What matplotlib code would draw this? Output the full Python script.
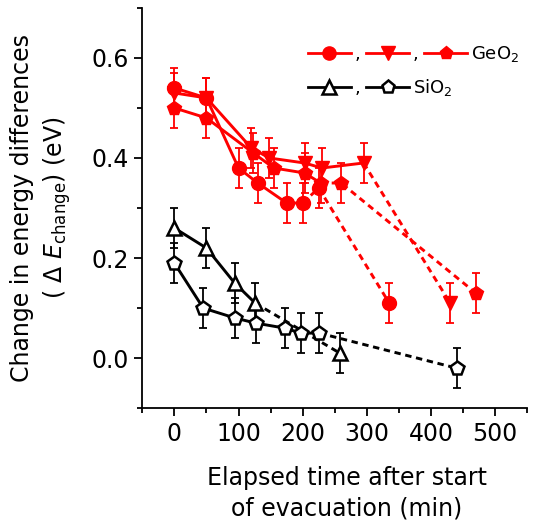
import matplotlib
matplotlib.use("Agg")
import matplotlib.pyplot as plt
from matplotlib.lines import Line2D
from matplotlib.ticker import MultipleLocator

plt.rcParams['font.family'] = ['DejaVu Sans']
plt.rcParams['mathtext.fontset'] = 'dejavusans'

# ---- data ----
ge_circ_x = [0, 50, 100, 130, 175, 200, 225, 335]
ge_circ_y = [0.54, 0.52, 0.38, 0.35, 0.31, 0.31, 0.34, 0.11]
ge_circ_dash_from = 5

ge_tri_x = [0, 50, 120, 148, 203, 230, 295, 430]
ge_tri_y = [0.53, 0.52, 0.42, 0.40, 0.39, 0.38, 0.39, 0.11]
ge_tri_dash_from = 6

ge_pent_x = [0, 50, 123, 155, 203, 228, 260, 470]
ge_pent_y = [0.50, 0.48, 0.41, 0.38, 0.37, 0.35, 0.35, 0.13]
ge_pent_dash_from = 5

si_tri_x = [0, 50, 94, 126, 258]
si_tri_y = [0.26, 0.22, 0.15, 0.11, 0.01]
si_tri_dash_from = 3

si_pent_x = [0, 45, 95, 127, 172, 198, 226, 440]
si_pent_y = [0.19, 0.10, 0.08, 0.07, 0.06, 0.05, 0.05, -0.02]
si_pent_dash_from = 6

err = 0.04

RED = '#ff0000'
BLK = '#000000'

fig = plt.figure(figsize=(5.33, 5.26), dpi=100)
ax = fig.add_axes([0.267, 0.224, 0.722, 0.761])


def draw(x, y, k, color, marker, filled):
    mfc = color if filled else 'white'
    ax.plot(x[:k + 1], y[:k + 1], '-', color=color, lw=2.1, zorder=2)
    ax.plot(x[k:], y[k:], color=color, lw=2.1, linestyle=(0, (2.2, 1.6)), zorder=2)
    ax.errorbar(x, y, yerr=err, fmt='none', ecolor=color, elinewidth=1.3,
                capsize=3, capthick=1.3, zorder=3)
    ax.plot(x, y, linestyle='none', marker=marker, ms=10, mfc=mfc,
            mec=color, mew=1.8 if not filled else 1.0, zorder=4)


draw(ge_circ_x, ge_circ_y, ge_circ_dash_from, RED, 'o', True)
draw(ge_tri_x, ge_tri_y, ge_tri_dash_from, RED, 'v', True)
draw(ge_pent_x, ge_pent_y, ge_pent_dash_from, RED, 'p', True)
draw(si_tri_x, si_tri_y, si_tri_dash_from, BLK, '^', False)
draw(si_pent_x, si_pent_y, si_pent_dash_from, BLK, 'p', False)

ax.set_xlim(-50, 550)
ax.set_ylim(-0.1, 0.7)
ax.xaxis.set_major_locator(MultipleLocator(100))
ax.xaxis.set_minor_locator(MultipleLocator(50))
ax.yaxis.set_major_locator(MultipleLocator(0.2))
ax.yaxis.set_minor_locator(MultipleLocator(0.1))
ax.yaxis.set_major_formatter(plt.FuncFormatter(lambda v, p: f"{v:.1f}"))

for s in ['top', 'right']:
    ax.spines[s].set_visible(False)
for s in ['left', 'bottom']:
    ax.spines[s].set_linewidth(1.3)

ax.tick_params(which='major', direction='out', length=6, width=1.3,
               labelsize=17, pad=4)
ax.tick_params(which='minor', direction='out', length=3.5, width=1.3)

ax.set_ylabel("Change in energy differences\n( $\\Delta$ $E_{\\rm change}$) (eV)",
              fontsize=17, linespacing=1.35)
ax.yaxis.set_label_coords(-0.18, 0.5, transform=ax.transAxes)
ax.set_xlabel("Elapsed time after start\nof evacuation (min)", fontsize=17,
              linespacing=1.35)
ax.xaxis.set_label_coords(0.532, -0.145, transform=ax.transAxes)
ax.xaxis.label.set_va('top')

# legend
def h(color, marker, filled):
    return Line2D([], [], color=color, lw=2.0, marker=marker, ms=9.5,
                  mfc=color if filled else 'white', mec=color,
                  mew=1.8 if not filled else 1.0)

leg_kw = dict(frameon=False, fontsize=13, handlelength=2.4, handletextpad=0.2,
              columnspacing=0.3, borderpad=0, borderaxespad=0, loc='center left')
leg1 = ax.legend([h(RED, 'o', True), h(RED, 'v', True), h(RED, 'p', True)],
                 [',', ',', 'GeO$_2$'], ncol=3,
                 bbox_to_anchor=(0.43, 0.885), **leg_kw)
ax.add_artist(leg1)
ax.legend([h(BLK, '^', False), h(BLK, 'p', False)],
          [',', 'SiO$_2$'], ncol=2, bbox_to_anchor=(0.43, 0.80), **leg_kw)

fig.savefig('out.png', dpi=100)
